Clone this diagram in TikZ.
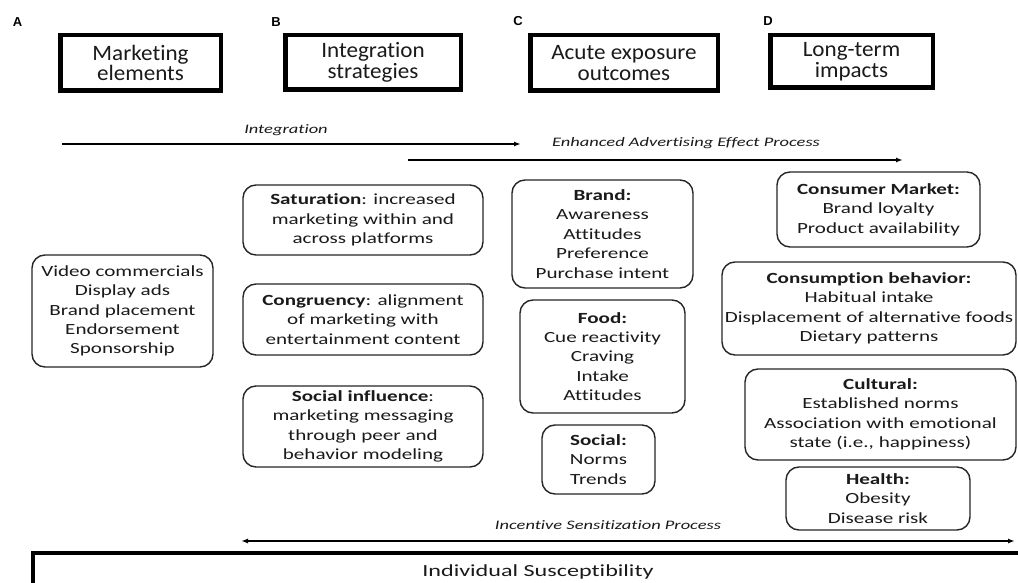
\documentclass[tikz,border=0pt]{standalone}
\usepackage{fontspec}
\setmainfont{Carlito}[Ligatures=NoCommon]
\newfontfamily\innerf{Carlito}[FakeStretch=1.36,Ligatures=NoCommon]
\newfontfamily\procf{Carlito}[FakeStretch=1.42,Ligatures=NoCommon]
\newfontfamily\topf{Carlito}[FakeStretch=1.05,Ligatures=NoCommon]
\newfontfamily\labf{Liberation Sans}
\usetikzlibrary{arrows.meta}
\definecolor{ink}{HTML}{1A1A1A}
\begin{document}
\begin{tikzpicture}[x=1pt,y=-1pt,
  topbox/.style={draw=black, line width=4.5pt, inner sep=0pt, align=center, text=ink,
    font=\topf\fontsize{22}{20.5}\selectfont},
  rbox/.style={draw=black!85, rounded corners=13pt, line width=1.4pt, inner sep=0pt, align=center, text=ink,
    font=\innerf\fontsize{15.5}{19.4}\selectfont},
  lab/.style={font=\labf\bfseries\fontsize{13}{13}\selectfont, inner sep=0pt, text=black},
  proc/.style={font=\procf\itshape\fontsize{13}{13}\selectfont, inner sep=0pt, anchor=base, text=ink},
  arr/.style={line width=1.4pt, -{Latex[length=7pt,width=5pt]}},
  darr/.style={line width=1.4pt, {Latex[length=7pt,width=5pt]}-{Latex[length=7pt,width=5pt]}},
]
\useasboundingbox (0,0) rectangle (1018,583);
\fill[white] (0,0) rectangle (1018,583);

% column labels
\node[lab] (la) at (17.5,22) {A};
\node[lab] (lb) at (276,22) {B};
\node[lab] (lc) at (518,21) {C};
\node[lab] (ld) at (768,21) {D};

% top boxes
\node[topbox, minimum width=160.5pt, minimum height=55.5pt] (me) at (140.5,63) {Marketing\\elements};
\node[topbox, minimum width=175.5pt, minimum height=54.5pt] (is) at (373,62.5) {Integration\\strategies};
\node[topbox, minimum width=187.5pt, minimum height=55.5pt] (aeo) at (624,63) {Acute exposure\\outcomes};
\node[topbox, minimum width=162.5pt, minimum height=52.5pt] (lti) at (851.5,61.5) {Long-term\\impacts};

% process arrows
\coordinate (i1) at (62,144);
\coordinate (i2) at (521,144);
\coordinate (e1) at (408,160);
\coordinate (e2) at (903,160);
\coordinate (s1) at (241,541);
\coordinate (s2) at (1015,541);
\draw[arr] (i1) -- (i2);
\draw[arr] (e1) -- (e2);
\draw[darr] (s1) -- (s2);
\node[proc] (tint) at (286,134) {Integration};
\node[proc] (tenh) at (686,147) {Enhanced Advertising Effect Process};
\node[proc] (tinc) at (608,529) {Incentive Sensitization Process};

% column A
\node[rbox, minimum width=181pt, minimum height=112pt] (vc) at (122.5,311)
  {Video commercials\\Display ads\\Brand placement\\Endorsement\\Sponsorship};

% column B
\node[rbox, minimum width=240pt, minimum height=70pt] (sat) at (363,220)
  {\textbf{Saturation}: increased\\marketing within and\\across platforms};
\node[rbox, minimum width=240pt, minimum height=71pt] (cong) at (363,319.5)
  {\textbf{Congruency}: alignment\\of marketing with\\entertainment content};
\node[rbox, minimum width=240pt, minimum height=81pt] (soc) at (363,426.5)
  {\textbf{Social influence}:\\marketing messaging\\through peer and\\behavior modeling};

% column C
\node[rbox, minimum width=181pt, minimum height=108pt] (brand) at (602.5,234)
  {\textbf{Brand:}\\Awareness\\Attitudes\\Preference\\Purchase intent};
\node[rbox, minimum width=165pt, minimum height=113pt] (food) at (602.5,356.5)
  {\textbf{Food:}\\Cue reactivity\\Craving\\Intake\\Attitudes};
\node[rbox, minimum width=113pt, minimum height=69pt] (social) at (598.5,459.5)
  {\textbf{Social:}\\Norms\\Trends};

% column D
\node[rbox, minimum width=203pt, minimum height=75pt] (cm) at (878.5,209.5)
  {\textbf{Consumer Market:}\\Brand loyalty\\Product availability};
\node[rbox, minimum width=294pt, minimum height=93pt] (cb) at (869,308.5)
  {\textbf{Consumption behavior:}\\Habitual intake\\Displacement of alternative foods\\Dietary patterns};
\node[rbox, minimum width=271pt, minimum height=91pt] (cul) at (880.5,414.5)
  {\textbf{Cultural:}\\Established norms\\Association with emotional\\state (i.e., happiness)};
\node[rbox, minimum width=184pt, minimum height=63pt] (hea) at (878,498.5)
  {\textbf{Health:}\\Obesity\\Disease risk};

% individual susceptibility
\node[draw=black, line width=4pt, minimum width=1007pt, minimum height=50pt, inner sep=0pt] (ind) at (536.5,578) {};
\node[font=\procf\fontsize{17}{17}\selectfont, text=ink, inner sep=0pt, anchor=base] (indt) at (538,576) {Individual Susceptibility};
\end{tikzpicture}
\end{document}
